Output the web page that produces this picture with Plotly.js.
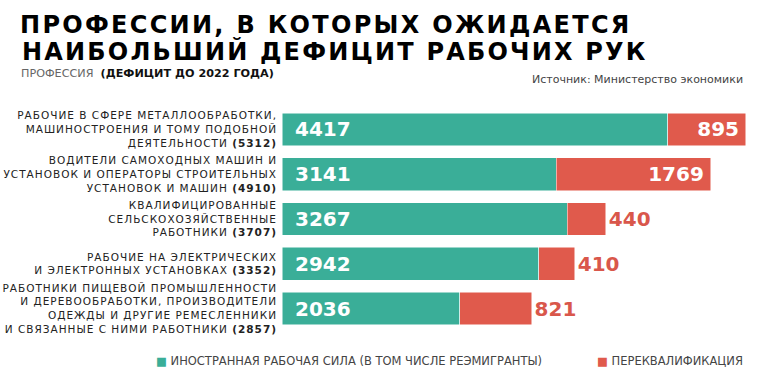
<!DOCTYPE html>
<html>
<head>
<meta charset="utf-8">
<script src="https://cdn.plot.ly/plotly-3.0.1.min.js"></script>
<style>html,body{margin:0;padding:0;background:#fff;}#chart{width:768px;height:382px;}</style>
</head>
<body>
<div id="chart"></div>
<script>
// Categories (y-axis tick labels)
var categories = [
  "РАБОЧИЕ В СФЕРЕ МЕТАЛЛООБРАБОТКИ,<br>МАШИНОСТРОЕНИЯ И ТОМУ ПОДОБНОЙ<br>ДЕЯТЕЛЬНОСТИ <b>(5312)</b>",
  "ВОДИТЕЛИ САМОХОДНЫХ МАШИН И<br>УСТАНОВОК И ОПЕРАТОРЫ СТРОИТЕЛЬНЫХ<br>УСТАНОВОК И МАШИН <b>(4910)</b>",
  "КВАЛИФИЦИРОВАННЫЕ<br>СЕЛЬСКОХОЗЯЙСТВЕННЫЕ<br>РАБОТНИКИ <b>(3707)</b>",
  "РАБОЧИЕ НА ЭЛЕКТРИЧЕСКИХ<br>И ЭЛЕКТРОННЫХ УСТАНОВКАХ <b>(3352)</b>",
  "РАБОТНИКИ ПИЩЕВОЙ ПРОМЫШЛЕННОСТИ<br>И ДЕРЕВООБРАБОТКИ, ПРОИЗВОДИТЕЛИ<br>ОДЕЖДЫ И ДРУГИЕ РЕМЕСЛЕННИКИ<br>И СВЯЗАННЫЕ С НИМИ РАБОТНИКИ <b>(2857)</b>"
];
// Series values
var foreignWorkers = [4417, 3141, 3267, 2942, 2036];
var retraining = [895, 1769, 440, 410, 821];
var seriesNames = ["ИНОСТРАННАЯ РАБОЧАЯ СИЛА (В ТОМ ЧИСЛЕ РЕЭМИГРАНТЫ)", "ПЕРЕКВАЛИФИКАЦИЯ"];
var retrainPositions = ["inside", "inside", "outside", "outside", "outside"];

var TEAL = "#3aae98", RED = "#e05a4c";
var ids = categories.map(function(c, i){ return i; });
var VALUE_FONT = {family: "DejaVu Sans", size: 20, color: "#ffffff", weight: "bold"};

var traces = [
  {
    type: "bar", orientation: "h", y: ids, x: foreignWorkers, name: seriesNames[0],
    marker: {color: TEAL, line: {color: "#ffffff", width: 0.5}},
    texttemplate: "\u2002%{x}", textposition: "inside", insidetextanchor: "start",
    insidetextfont: VALUE_FONT,
    hoverinfo: "none", showlegend: false, cliponaxis: false
  },
  {
    type: "bar", orientation: "h", y: ids, x: retraining, name: seriesNames[1],
    marker: {color: RED, line: {color: "#ffffff", width: 0.5}},
    texttemplate: "%{x}\u2009", textposition: retrainPositions, insidetextanchor: "end",
    insidetextfont: VALUE_FONT,
    outsidetextfont: {family: "DejaVu Sans", size: 20, color: "#d9574b", weight: "bold"},
    hoverinfo: "none", showlegend: false, cliponaxis: false
  }
];

function px(xp){ return (xp - 282) / 486; }      // container px -> x paper
function py(yp){ return (331 - yp) / 224; }      // container px -> y paper

var TITLE2_SPACING = 2.2;
var TITLE2 = "НАИБОЛЬШИЙ ДЕФИЦИТ РАБОЧИХ РУК";

var layout = {
  width: 768, height: 382,
  margin: {l: 282, r: 0, t: 107, b: 51, pad: 0},
  paper_bgcolor: "#ffffff", plot_bgcolor: "#ffffff",
  barmode: "stack", bargap: 0.27,
  showlegend: false,
  title: {
    text: "ПРОФЕССИИ, В КОТОРЫХ ОЖИДАЕТСЯ",
    xref: "container", yref: "container", x: 20/768, xanchor: "left",
    y: 1 - 16/382, yanchor: "top",
    font: {family: "DejaVu Sans", size: 24, color: "#000000", weight: "bold"}
  },
  xaxis: {range: [0, 5564], visible: false, fixedrange: true},
  yaxis: {
    type: "category", range: [4.5, -0.5], tickmode: "array", tickvals: ids, ticktext: categories,
    ticks: "", ticklabelstandoff: 4, showgrid: false, zeroline: false, showline: false,
    tickfont: {family: "DejaVu Sans", size: 10.5, color: "#222222"}, fixedrange: true
  },
  annotations: [
    {
      text: TITLE2, xref: "paper", yref: "paper",
      x: px(20 + TITLE2.length * TITLE2_SPACING / 2), xanchor: "left", y: py(35), yanchor: "top", showarrow: false,
      font: {family: "DejaVu Sans", size: 24, color: "#000000", weight: "bold"}
    },
    {
      text: "<span style='color:#666666'>ПРОФЕССИЯ</span>  <b>(ДЕФИЦИТ ДО 2022 ГОДА)</b>",
      xref: "paper", yref: "paper",
      x: px(19), xanchor: "left", y: py(73.5), yanchor: "middle", showarrow: false,
      font: {family: "DejaVu Sans", size: 11.2, color: "#111111"}
    },
    {
      text: "Источник: Министерство экономики", xref: "paper", yref: "paper",
      x: px(745), xanchor: "right", y: py(79), yanchor: "middle", showarrow: false,
      font: {family: "DejaVu Sans", size: 11, color: "#444444"}
    },
    {
      text: "<span style='color:" + TEAL + "'>■</span> " + seriesNames[0], xref: "paper", yref: "paper",
      x: px(154), xanchor: "left", y: py(361), yanchor: "middle", showarrow: false,
      font: {family: "DejaVu Sans", size: 11.5, color: "#444444"}
    },
    {
      text: "<span style='color:" + RED + "'>■</span> " + seriesNames[1], xref: "paper", yref: "paper",
      x: px(595), xanchor: "left", y: py(361), yanchor: "middle", showarrow: false,
      font: {family: "DejaVu Sans", size: 11.5, color: "#444444"}
    }
  ]
};

function spaceText(){
  var gd = document.getElementById("chart");
  gd.querySelectorAll(".gtitle").forEach(function(el){ el.style.letterSpacing = "2.3px"; });
  var ann = gd.querySelectorAll(".annotation-text");
  if (ann[0]) ann[0].style.letterSpacing = TITLE2_SPACING + "px";
  gd.querySelectorAll(".ytick text").forEach(function(el){ el.style.letterSpacing = "1px"; });
}

Plotly.newPlot("chart", traces, layout, {displayModeBar: false, staticPlot: true}).then(function(gd){
  spaceText();
  gd.on("plotly_afterplot", spaceText);
});
</script>
</body>
</html>
